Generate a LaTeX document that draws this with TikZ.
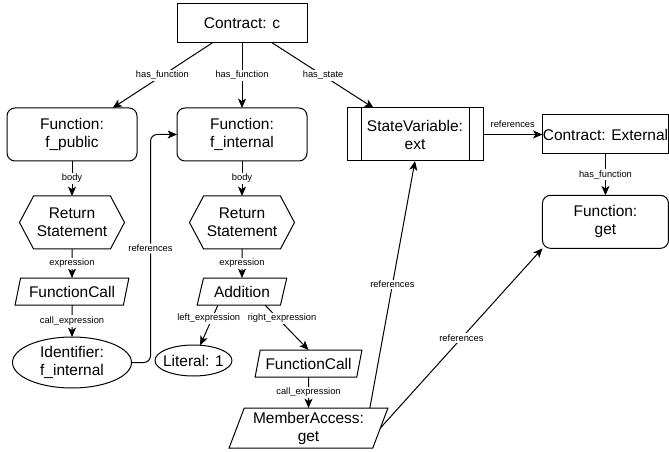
\documentclass[tikz,border=0pt]{standalone}
\usepackage{fontspec}
\setmainfont{Liberation Sans}
\usepackage{tikz}
\usetikzlibrary{arrows.meta,positioning}
\usetikzlibrary{shapes.geometric,shapes.symbols}
\tikzset{>={Stealth[length=7pt,width=6pt,inset=1.8pt]}}

\begin{document}
\begin{tikzpicture}[x=0.75pt, y=-0.75pt, node distance=30pt,
                every node/.append style={align=center, inner sep=0pt, outer sep=0pt},
                base/.style={draw, line width=0.75pt, font=\fontsize{11.6}{13.5}\selectfont},
                box/.style={base, rectangle, minimum width=97.5pt, minimum height=29.25pt},
                func/.style={base, rectangle, rounded corners=6pt, minimum width=97.5pt, minimum height=39.75pt},
                stmt/.style={base, signal, signal to=east and west, signal pointer angle=124,
                             minimum width=78.75pt, minimum height=39.75pt},
                expr/.style={base, trapezium, trapezium left angle=68, trapezium right angle=112,
                             trapezium stretches=true, minimum height=20.25pt},
                leaf/.style={base, ellipse},
                var/.style={base, rectangle, minimum width=102pt, minimum height=39.75pt,
                            path picture={\draw[line width=0.75pt]
                              ([xshift=10.5pt]path picture bounding box.north west) -- ([xshift=10.5pt]path picture bounding box.south west)
                              ([xshift=-10.5pt]path picture bounding box.north east) -- ([xshift=-10.5pt]path picture bounding box.south east);}},
                lbl/.style={fill=white, font=\fontsize{7}{8}\selectfont, inner sep=1pt},
                link/.style={->, line width=0.75pt}]

    \useasboundingbox (0,0) rectangle (669,452);

    % top level
    \node [box] (c) at (242,23.5) {Contract: c};
    \node [func, below=48.75pt of c] (fint) {Function:\\f\_internal};
    \node [func, left=30pt of fint] (fpub) {Function:\\f\_public};
    \node [var, right=30pt of fint] (sv) {StateVariable:\\ext};
    \node [box, minimum width=94.5pt, right=44.6pt of sv] (ext) {Contract: External};
    \node [func, minimum width=94.5pt, below=31pt of ext] (get) {Function:\\get};

    % f_public body
    \node [stmt, below=26.25pt of fpub] (ret1) {Return\\Statement};
    \node [expr, minimum width=85.5pt, below=21.75pt of ret1] (call1) {FunctionCall};
    \node [leaf, minimum width=89.25pt, minimum height=38.25pt, below=24pt of call1] (ident) {Identifier:\\f\_internal};

    % f_internal body
    \node [stmt, below=26.25pt of fint] (ret2) {Return\\Statement};
    \node [expr, minimum width=67.5pt, below=21.75pt of ret2] (add) {Addition};
    \node [leaf, minimum width=57.75pt, minimum height=23.25pt, below=30pt of add, xshift=-36.4pt] (lit) {\makebox[0pt]{Literal: 1}};
    \node [expr, minimum width=80.25pt, below=33.75pt of add, xshift=49.9pt] (call2) {FunctionCall};
    \node [expr, minimum width=119.25pt, minimum height=30pt, below=23.25pt of call2] (mem) {MemberAccess:\\get};

    \path[link] (c) edge node[lbl] {has\_function} (fpub)
                (c) edge node[lbl] {has\_function} (fint)
                (c) edge node[lbl] {has\_state} (sv)
                (sv) edge node[lbl, above=4pt, fill=none] {references} (ext)
                (ext) edge node[lbl] {has\_function} (get)
                (fpub) edge node[lbl] {body} (ret1)
                (ret1) edge node[lbl] {expression} (call1)
                (call1) edge node[lbl] {call\_expression} (ident)
                (fint) edge node[lbl] {body} (ret2)
                (ret2) edge node[lbl] {expression} (add)
                ([xshift=-18pt]add.south) edge node[lbl, pos=0.33, xshift=-2.5pt] {left\_expression} (lit)
                ([xshift=17.25pt]add.south) edge node[lbl, pos=0.3, xshift=3pt] {right\_expression} (call2.north)
                (call2) edge node[lbl] {call\_expression} (mem)
                ([xshift=46pt]mem.north) edge node[lbl] {references} (sv.south)
                (mem.east) edge node[lbl] {references} (get.south west);
    \draw[link, rounded corners=5pt] (ident.east) -- ++(19,0) |- node[lbl, pos=0.25] {references} (fint.west);
\end{tikzpicture}
\end{document}
